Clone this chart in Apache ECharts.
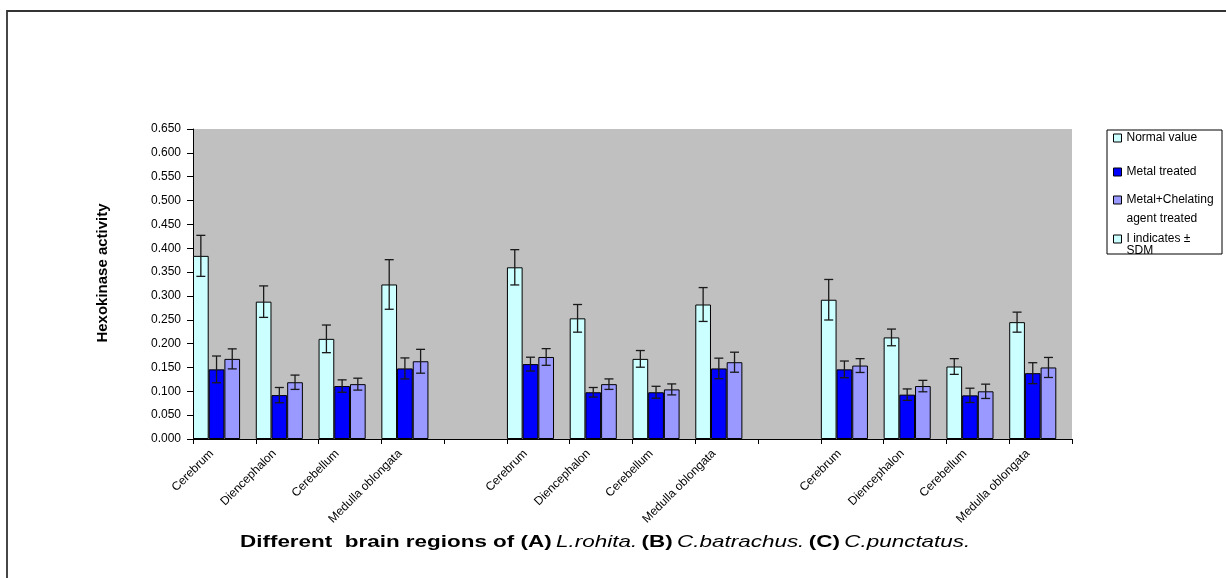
<!DOCTYPE html>
<html>
<head>
<meta charset="utf-8">
<script src="https://cdn.jsdelivr.net/npm/echarts@6/dist/echarts.min.js"></script>
<style>
html,body{margin:0;padding:0;background:#fff;}
#chart{width:1226px;height:578px;}
</style>
</head>
<body>
<div id="chart"></div>
<script>
const categories = ['Cerebrum','Diencephalon','Cerebellum','Medulla oblongata','',
                    'Cerebrum','Diencephalon','Cerebellum','Medulla oblongata','',
                    'Cerebrum','Diencephalon','Cerebellum','Medulla oblongata'];
const normalValue = [0.384,0.288,0.210,0.324,null,0.360,0.253,0.168,0.282,null,0.292,0.213,0.152,0.245];
const normalSD    = [0.043,0.033,0.029,0.052,null,0.037,0.029,0.0175,0.0355,null,0.0425,0.0175,0.0165,0.021];
const metalValue  = [0.146,0.092,0.111,0.148,null,0.157,0.098,0.098,0.148,null,0.146,0.093,0.0915,0.138];
const metalSD     = [0.028,0.016,0.013,0.022,null,0.0145,0.010,0.0125,0.0215,null,0.0175,0.012,0.015,0.022];
const chelValue   = [0.168,0.119,0.115,0.163,null,0.172,0.115,0.104,0.161,null,0.154,0.111,0.100,0.150];
const chelSD      = [0.021,0.015,0.0125,0.025,null,0.0175,0.011,0.0115,0.021,null,0.0145,0.012,0.015,0.021];
const seriesNames = ['Normal value','Metal treated','Metal+Chelating\nagent treated','I indicates \u00b1\nSDM'];
const seriesColors = ['#CCFFFF','#0000FF','#9999FF','#CCFFFF'];

const FONT = 'Liberation Sans, Arial, sans-serif';

function errData(values, sds){
  const out = [];
  values.forEach((v,i)=>{ if(v!=null) out.push([i, v - sds[i], v + sds[i]]); });
  return out;
}
function errSeries(values, sds, slot){
  return {
    type:'custom', z:5, silent:true,
    data: errData(values, sds),
    encode:{x:0, y:[1,2]},
    renderItem:function(params, api){
      const idx = api.value(0);
      const bw = api.size([1,0])[0];
      const cx = api.coord([idx,0])[0] + (slot - 1.5) * bw / 4;
      const yLo = api.coord([idx, api.value(1)])[1];
      const yHi = api.coord([idx, api.value(2)])[1];
      const cap = 4.5;
      const st = {stroke:'#1a1a1a', lineWidth:1.3};
      return {type:'group', children:[
        {type:'line', shape:{x1:cx,y1:yHi,x2:cx,y2:yLo}, style:st},
        {type:'line', shape:{x1:cx-cap,y1:yHi,x2:cx+cap,y2:yHi}, style:st},
        {type:'line', shape:{x1:cx-cap,y1:yLo,x2:cx+cap,y2:yLo}, style:st}
      ]};
    }
  };
}
function barSeries(name, color, data){
  return {
    name:name, type:'bar', data:data,
    barGap:'0%', barCategoryGap:'0%',
    itemStyle:{color:color, borderColor:'#000', borderWidth:1},
    emphasis:{disabled:true}
  };
}

function legendItem(name, top, lineHeight){
  const ts = {fontFamily:FONT, fontSize:12, color:'#000'};
  const lg = {
    data:[name], orient:'vertical', left:1113, top:top, padding:0,
    itemWidth:8, itemHeight:8, icon:'rect', selectedMode:false,
    itemStyle:{borderColor:'#000', borderWidth:1},
    textStyle:ts
  };
  if(lineHeight){
    ts.lineHeight = lineHeight;
    // leading blank line so the first text line sits beside the symbol
    lg.formatter = n => '\n' + n;
  }
  return lg;
}

const chart = echarts.init(document.getElementById('chart'), null, {renderer:'canvas'});
chart.setOption({
  animation:false,
  backgroundColor:'#fff',
  grid:{left:193, right:154, top:129, bottom:139, show:true, backgroundColor:'#C0C0C0', borderWidth:0},
  graphic:[
    {type:'rect', z:-10, shape:{x:7, y:11, width:1240, height:600}, style:{fill:'#fff', stroke:'#333', lineWidth:1.8}},
    {type:'rect', z:0, shape:{x:1107, y:130, width:115, height:124}, style:{fill:'#fff', stroke:'#000', lineWidth:1}},
    {type:'text', x:103, y:273, rotation:Math.PI/2,
     style:{text:'Hexokinase activity', align:'center', verticalAlign:'middle', font:'bold 15px ' + FONT, fill:'#000'}},
    {type:'text', x:240, y:542, scaleX:1.32, scaleY:1,
     style:{
       x:0, y:0, verticalAlign:'middle', align:'left',
       text:'{b|Different  brain regions of (A)} {i|L.rohita.} {b|(B)} {i|C.batrachus.} {b|(C)} {i|C.punctatus.}',
       rich:{
         b:{fontFamily:FONT, fontSize:17, fontWeight:'bold', fill:'#000'},
         i:{fontFamily:FONT, fontSize:17, fontStyle:'italic', fontWeight:'normal', fill:'#000'}
       }
     }}
  ],
  legend:[
    legendItem(seriesNames[0], 132),
    legendItem(seriesNames[1], 166),
    legendItem(seriesNames[2], 171.5, 19),
    legendItem(seriesNames[3], 221, 12)
  ],
  xAxis:{
    type:'category', data:categories,
    axisLine:{lineStyle:{color:'#000', width:1}},
    axisTick:{show:true, interval:0, length:5, lineStyle:{color:'#000'}},
    axisLabel:{interval:0, rotate:45, margin:0, padding:[0,18,0,0], fontFamily:FONT, fontSize:12, color:'#000'},
    splitLine:{show:false}
  },
  yAxis:{
    type:'value', min:0, max:0.65, interval:0.05,
    axisLine:{show:true, lineStyle:{color:'#000', width:1}},
    axisTick:{show:true, length:6, lineStyle:{color:'#000'}},
    axisLabel:{margin:12, fontFamily:FONT, fontSize:12, color:'#000', formatter:v=>v.toFixed(3)},
    splitLine:{show:false}
  },
  series:[
    barSeries(seriesNames[0], seriesColors[0], normalValue),
    barSeries(seriesNames[1], seriesColors[1], metalValue),
    barSeries(seriesNames[2], seriesColors[2], chelValue),
    barSeries(seriesNames[3], seriesColors[3], []),
    errSeries(normalValue, normalSD, 0),
    errSeries(metalValue, metalSD, 1),
    errSeries(chelValue, chelSD, 2)
  ]
});
</script>
</body>
</html>
